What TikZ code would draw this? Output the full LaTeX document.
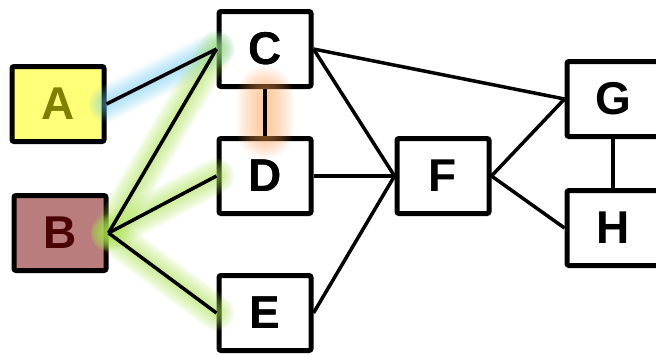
\documentclass[tikz,border=0pt]{standalone}
\usepackage{fontspec}
\setmainfont{Liberation Sans}
\definecolor{ayellow}{RGB}{255,255,120}
\definecolor{atext}{RGB}{128,128,0}
\definecolor{bfill}{RGB}{185,125,125}
\definecolor{btext}{RGB}{75,0,0}
\definecolor{glowblue}{RGB}{100,200,240}
\definecolor{glowgreen}{RGB}{170,225,80}
\definecolor{gloworange}{RGB}{255,160,80}
\tikzset{
  box/.style={draw=black, line width=5, rounded corners=2, minimum width=92, minimum height=75, inner sep=0, fill=white,
    font=\fontsize{46}{50}\selectfont\bfseries},
  link/.style={draw=black, line width=3.5},
  lbl/.style={font=\fontsize{46}{50}\selectfont\bfseries, text=black},
}
\newcommand{\glowline}[4]{%
  \foreach \w in {3,6,...,#3}{\draw[#1, line width=\w, opacity=#4, line cap=round] #2;}%
}
\begin{document}
\begin{tikzpicture}[x=1pt,y=-1pt]
\useasboundingbox (0,0) rectangle (656,354);
\clip (0,0) rectangle (656,354);
\node[box, fill=ayellow, text=atext] (A) at (58,104) {A};
\node[box, fill=bfill, text=btext] (B) at (60,233) {B};
\node[box] (C) at (265,49) {C};
\node[box] (D) at (265,176) {D};
\node[box] (E) at (265,313) {E};
\node[box] (F) at (443,176) {F};
\node[box] (G) at (613,99) {G};
\node[box] (H) at (613,228) {H};
% glows
\glowline{glowblue}{(A.east) -- (C.west)}{36}{0.06}
\glowline{glowgreen}{(B.east) -- (C.west)}{36}{0.07}
\glowline{glowgreen}{(B.east) -- (D.west)}{36}{0.07}
\glowline{glowgreen}{(B.east) -- (E.west)}{36}{0.07}
\glowline{gloworange}{([yshift=-6]C.south) -- ([yshift=6]D.north)}{57}{0.045}
% connectors
\draw[link] (A.east) -- (C.west);
\draw[link] (B.east) -- (C.west);
\draw[link] (B.east) -- (D.west);
\draw[link] (B.east) -- (E.west);
\draw[link] (C.south) -- (D.north);
\draw[link] (C.east) -- (F.west);
\draw[link] (C.east) -- (G.west);
\draw[link] (D.east) -- (F.west);
\draw[link] (E.east) -- (F.west);
\draw[link] (F.east) -- (G.west);
\draw[link] (F.east) -- (H.west);
\draw[link] (G.south) -- (H.north);
% redraw labels above the glow
\node[lbl] at (C) {C};
\node[lbl] at (D) {D};
\node[lbl] at (E) {E};
\end{tikzpicture}
\end{document}
